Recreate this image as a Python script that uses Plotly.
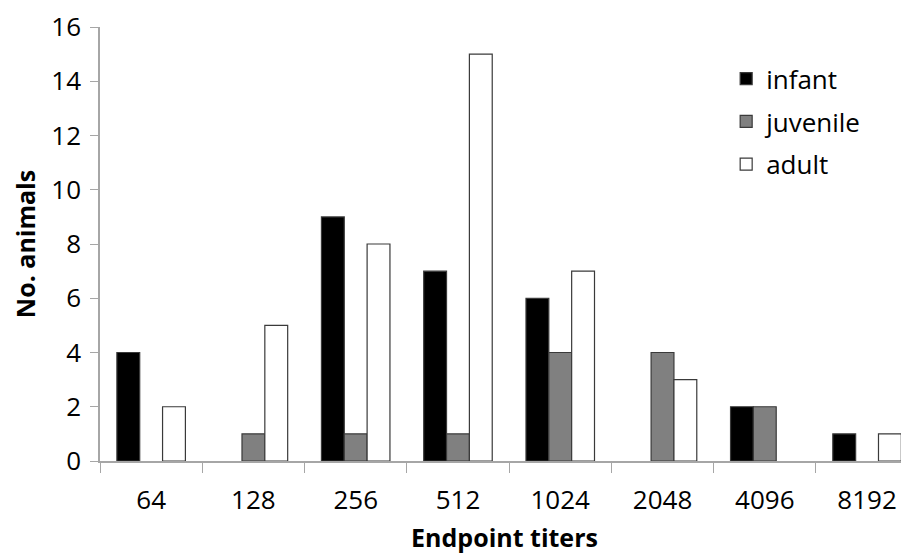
import plotly.graph_objects as go

categories = ["64", "128", "256", "512", "1024", "2048", "4096", "8192"]
infant = [4, 0, 9, 7, 6, 0, 2, 1]
juvenile = [0, 1, 1, 1, 4, 4, 2, 0]
adult = [2, 5, 8, 15, 7, 3, 0, 1]

series = [("infant", infant, "#000000"), ("juvenile", juvenile, "#808080"), ("adult", adult, "#ffffff")]

FONT = "Open Sans"
fig = go.Figure()
for name, vals, col in series:
    fig.add_trace(go.Bar(
        x=categories, y=[v if v else None for v in vals], name=name,
        legendgroup=name,
        marker=dict(color=col, line=dict(color="#3a3a3a", width=1.2)),
    ))

# page body has an 8px margin, so the figure is sized to fill the rest of the window
fig.update_layout(
    width=901, height=546,
    margin=dict(l=92, r=0, t=19, b=93, autoexpand=False),
    paper_bgcolor="white", plot_bgcolor="white",
    barmode="group", bargap=0.33, bargroupgap=0,
    font=dict(family=FONT, size=26, color="#000000"),
    showlegend=True,
    legend=dict(x=0.774, y=0.935, xanchor="left", yanchor="top",
                font=dict(size=26), tracegroupgap=6, itemwidth=30,
                bgcolor="rgba(0,0,0,0)"),
)
fig.update_xaxes(
    type="category", range=[-0.5, 7.41], automargin=False,
    showline=True, linecolor="#a6a6a6", linewidth=1.5,
    ticks="outside", tickson="boundaries", ticklen=10, tickcolor="#a6a6a6",
    ticklabelstandoff=15, tickfont=dict(size=26),
    showgrid=False, zeroline=False,
    title=dict(text="<b>Endpoint titers</b>", font=dict(size=25), standoff=16),
)
fig.update_yaxes(
    range=[0, 16], dtick=2, automargin=False,
    showline=True, linecolor="#a6a6a6", linewidth=1.5,
    ticks="outside", ticklen=8, tickcolor="#a6a6a6",
    ticklabelstandoff=4, tickfont=dict(size=26),
    showgrid=False, zeroline=False,
    title=dict(text="<b>No. animals</b>", font=dict(size=25), standoff=17),
)
fig.write_html("out.html")
